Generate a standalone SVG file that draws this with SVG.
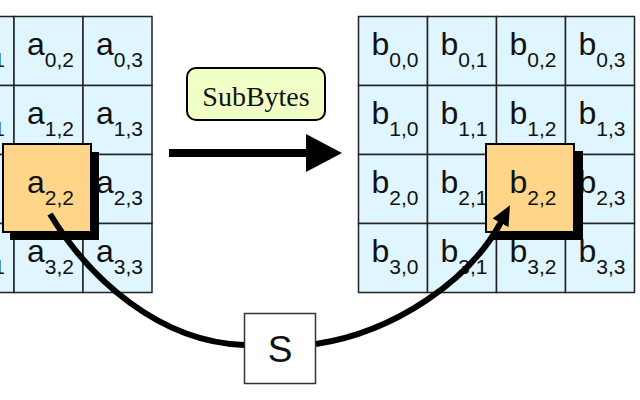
<svg xmlns="http://www.w3.org/2000/svg" width="640" height="400" viewBox="0 0 640 400">
<style>
.cell{fill:#dff5ff;stroke:#222;stroke-width:1.5}
.hl{fill:#ffd58a;stroke:#000;stroke-width:2}
.sh{fill:#000}
.m{font-family:"Liberation Sans",Arial,sans-serif;font-size:32px;fill:#111;text-anchor:middle}
.s{font-size:21px}
.lab{font-family:"Liberation Serif","Times New Roman",serif;font-size:28px;fill:#111;text-anchor:middle}
.conn{fill:none;stroke:#000;stroke-width:6}
</style>
<defs>
<marker id="ah" viewBox="0 0 20 18" refX="1" refY="9" markerWidth="20" markerHeight="18" markerUnits="userSpaceOnUse" orient="auto">
<path d="M0,0 L20,9 L0,18 Z" fill="#000"/>
</marker>
</defs>
<rect width="640" height="400" fill="#fff"/>

<g id="stateA">
<rect class="cell" x="-55" y="16.5" width="69" height="69"/><text class="m" x="-18.5" y="55">a<tspan class="s" dy="12">0,1</tspan></text>
<rect class="cell" x="14" y="16.5" width="69" height="69"/><text class="m" x="50.5" y="55">a<tspan class="s" dy="12">0,2</tspan></text>
<rect class="cell" x="83" y="16.5" width="69" height="69"/><text class="m" x="119.5" y="55">a<tspan class="s" dy="12">0,3</tspan></text>
<rect class="cell" x="-55" y="85.5" width="69" height="69"/><text class="m" x="-18.5" y="124">a<tspan class="s" dy="12">1,1</tspan></text>
<rect class="cell" x="14" y="85.5" width="69" height="69"/><text class="m" x="50.5" y="124">a<tspan class="s" dy="12">1,2</tspan></text>
<rect class="cell" x="83" y="85.5" width="69" height="69"/><text class="m" x="119.5" y="124">a<tspan class="s" dy="12">1,3</tspan></text>
<rect class="cell" x="-55" y="154.5" width="69" height="69"/>
<rect class="cell" x="14" y="154.5" width="69" height="69"/>
<rect class="cell" x="83" y="154.5" width="69" height="69"/><text class="m" x="119.5" y="193">a<tspan class="s" dy="12">2,3</tspan></text>
<rect class="cell" x="-55" y="223.5" width="69" height="69"/><text class="m" x="-18.5" y="262">a<tspan class="s" dy="12">3,1</tspan></text>
<rect class="cell" x="14" y="223.5" width="69" height="69"/><text class="m" x="50.5" y="262">a<tspan class="s" dy="12">3,2</tspan></text>
<rect class="cell" x="83" y="223.5" width="69" height="69"/><text class="m" x="119.5" y="262">a<tspan class="s" dy="12">3,3</tspan></text>
</g>

<g id="a22">
<rect class="sh" x="10" y="152" width="89" height="88"/>
<rect class="hl" x="3" y="144" width="88" height="88"/>
<text class="m" x="50.5" y="193">a<tspan class="s" dy="12">2,2</tspan></text>
</g>

<g id="stateB">
<rect class="cell" x="358.5" y="16.5" width="69" height="69"/><text class="m" x="395" y="55">b<tspan class="s" dy="12">0,0</tspan></text>
<rect class="cell" x="427.5" y="16.5" width="69" height="69"/><text class="m" x="464" y="55">b<tspan class="s" dy="12">0,1</tspan></text>
<rect class="cell" x="496.5" y="16.5" width="69" height="69"/><text class="m" x="533" y="55">b<tspan class="s" dy="12">0,2</tspan></text>
<rect class="cell" x="565.5" y="16.5" width="69" height="69"/><text class="m" x="602" y="55">b<tspan class="s" dy="12">0,3</tspan></text>
<rect class="cell" x="358.5" y="85.5" width="69" height="69"/><text class="m" x="395" y="124">b<tspan class="s" dy="12">1,0</tspan></text>
<rect class="cell" x="427.5" y="85.5" width="69" height="69"/><text class="m" x="464" y="124">b<tspan class="s" dy="12">1,1</tspan></text>
<rect class="cell" x="496.5" y="85.5" width="69" height="69"/><text class="m" x="533" y="124">b<tspan class="s" dy="12">1,2</tspan></text>
<rect class="cell" x="565.5" y="85.5" width="69" height="69"/><text class="m" x="602" y="124">b<tspan class="s" dy="12">1,3</tspan></text>
<rect class="cell" x="358.5" y="154.5" width="69" height="69"/><text class="m" x="395" y="193">b<tspan class="s" dy="12">2,0</tspan></text>
<rect class="cell" x="427.5" y="154.5" width="69" height="69"/><text class="m" x="464" y="193">b<tspan class="s" dy="12">2,1</tspan></text>
<rect class="cell" x="496.5" y="154.5" width="69" height="69"/>
<rect class="cell" x="565.5" y="154.5" width="69" height="69"/><text class="m" x="602" y="193">b<tspan class="s" dy="12">2,3</tspan></text>
<rect class="cell" x="358.5" y="223.5" width="69" height="69"/><text class="m" x="395" y="262">b<tspan class="s" dy="12">3,0</tspan></text>
<rect class="cell" x="427.5" y="223.5" width="69" height="69"/><text class="m" x="464" y="262">b<tspan class="s" dy="12">3,1</tspan></text>
<rect class="cell" x="496.5" y="223.5" width="69" height="69"/><text class="m" x="533" y="262">b<tspan class="s" dy="12">3,2</tspan></text>
<rect class="cell" x="565.5" y="223.5" width="69" height="69"/><text class="m" x="602" y="262">b<tspan class="s" dy="12">3,3</tspan></text>
</g>

<g id="b22">
<rect class="sh" x="493" y="151" width="90" height="89"/>
<rect class="hl" x="486" y="144" width="88" height="88"/>
<text class="m" x="533" y="193">b<tspan class="s" dy="12">2,2</tspan></text>
</g>

<g id="subbytes">
<rect x="187" y="68" width="138" height="52" rx="9" fill="#efffc6" stroke="#000" stroke-width="2"/>
<text class="lab" x="256" y="106">SubBytes</text>
</g>

<g id="sbox">
<rect x="244.5" y="313.5" width="71" height="70" fill="#fff" stroke="#333" stroke-width="1.5"/>
<text class="m" x="280" y="362" style="font-size:37px">S</text>
</g>

<g id="connectors">
<line x1="169" y1="153" x2="307" y2="153" stroke="#000" stroke-width="8"/>
<path d="M306,134 L342,153 L306,172 Z" fill="#000"/>
<path class="conn" d="M50,214 C90,280 160,342 244,345"/>
<path class="conn" d="M316,344 C395,332 470,280 501,222" marker-end="url(#ah)"/>
</g>
</svg>
